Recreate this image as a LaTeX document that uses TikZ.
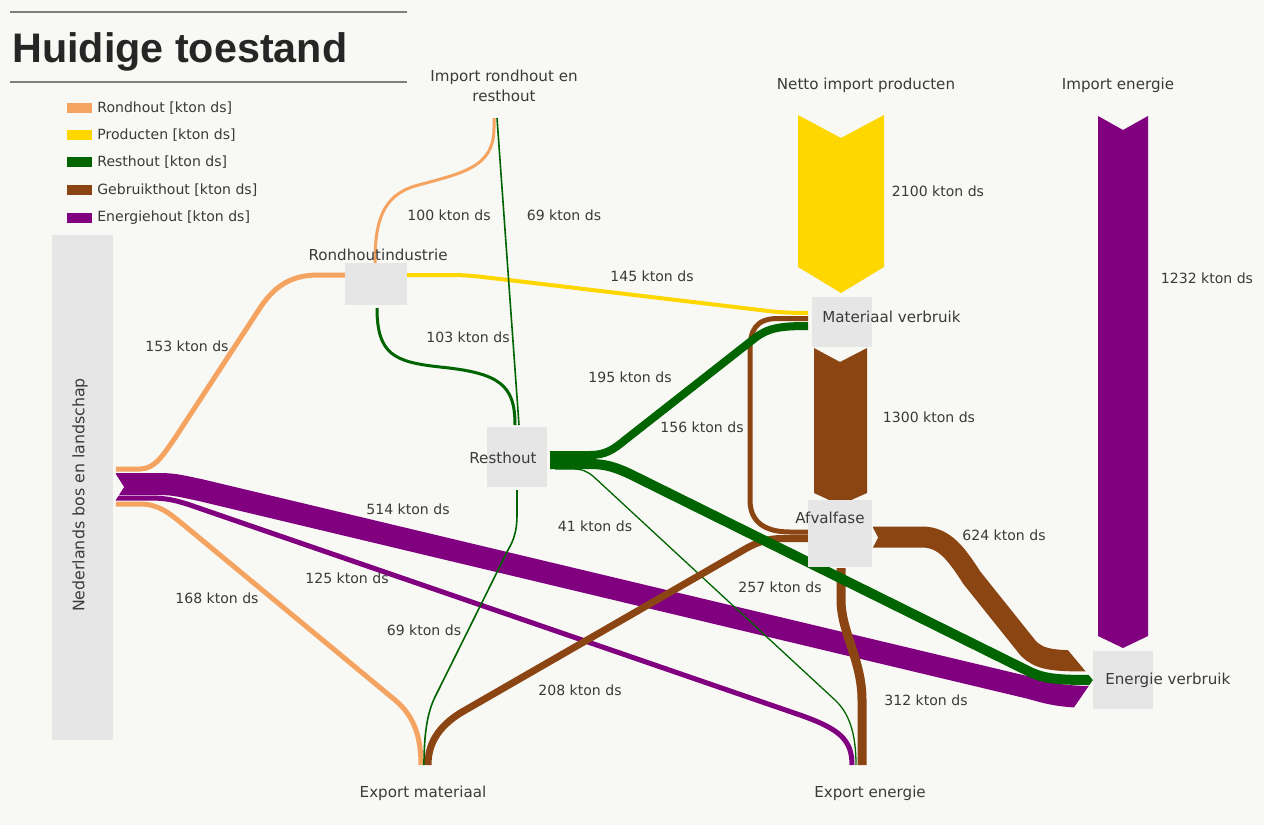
\documentclass[tikz,border=0pt]{standalone}
\usepackage{fontspec}
\setmainfont{DejaVu Sans}
\newfontfamily\titlefont{Liberation Sans}
\usetikzlibrary{calc}
\definecolor{bg}{HTML}{F8F8F4}
\definecolor{boxgrey}{HTML}{E6E6E6}
\definecolor{cOr}{HTML}{F4A460}
\definecolor{cYe}{HTML}{FFD700}
\definecolor{cGr}{HTML}{006400}
\definecolor{cBr}{HTML}{8B4513}
\definecolor{cPu}{HTML}{800080}
\definecolor{txt}{HTML}{3A3A3A}
\definecolor{rule}{HTML}{7F7F7F}
\pgfdeclarelayer{bglayer}
\pgfdeclarelayer{flowlayer}
\pgfsetlayers{bglayer,flowlayer,main}
\begin{document}
\begin{tikzpicture}[x=0.02cm,y=-0.02cm,
  flow/.style={line width=#1*0.02cm},
  gbox/.style={fill=boxgrey,draw=none,inner sep=0pt,outer sep=0pt},
  nlbl/.style={font=\fontsize{8.6}{11.3}\selectfont,text=txt,inner sep=0pt},
  lbl/.style={font=\fontsize{8}{9.6}\selectfont,text=txt,inner sep=0pt},
  leg/.style={font=\fontsize{8}{9.6}\selectfont,text=txt,inner sep=0pt,anchor=west}
]
\useasboundingbox (0,0) rectangle (1264,825);
\begin{pgfonlayer}{bglayer}
\fill[bg] (0,0) rectangle (1264,825);
\end{pgfonlayer}

% title and rules
\draw[rule,line width=0.04cm] (10,12) -- (407,12);
\draw[rule,line width=0.04cm] (10,82) -- (407,82);
\node[anchor=base west,inner sep=0pt,font=\titlefont\bfseries\fontsize{23.5}{28}\selectfont,text=black!85] (title) at (12,62) {Huidige toestand};

% legend
\fill[cOr] (67,103) rectangle (92,113);
\fill[cYe] (67,130) rectangle (92,140);
\fill[cGr] (67,157) rectangle (92,167);
\fill[cBr] (67,185) rectangle (92,195);
\fill[cPu] (67,213) rectangle (92,223);
\node[leg] (l1) at (97,108) {Rondhout [kton ds]};
\node[leg] (l2) at (97,135) {Producten [kton ds]};
\node[leg] (l3) at (97,162) {Resthout [kton ds]};
\node[leg] (l4) at (97,190) {Gebruikthout [kton ds]};
\node[leg] (l5) at (97,218) {Energiehout [kton ds]};

% process boxes
\node[gbox,minimum width=1.22cm,minimum height=10.1cm] (nb) at (82.5,487.5) {};
\node[gbox,minimum width=1.24cm,minimum height=0.84cm] (ri) at (376,284) {};
\node[gbox,minimum width=1.2cm,minimum height=1.2cm] (rh) at (517,457) {};
\node[gbox,minimum width=1.2cm,minimum height=1.0cm] (mv) at (842,322) {};
\node[gbox,minimum width=1.28cm,minimum height=1.34cm] (af) at (840,533.5) {};

% free ends
\coordinate (irOut) at (495,118);
\coordinate (emIn) at (424,765);
\coordinate (eeIn) at (856,765);

\begin{pgfonlayer}{flowlayer}
% chevrons
\fill[cYe] (798,115) -- (841,138) -- (884,115) -- (884,267) -- (841,293) -- (798,267) -- cycle;
\fill[cBr] (814,348) -- (840,362) -- (867,348) -- (867,493) -- (840,505) -- (814,493) -- cycle;
\fill[cPu] (1098,116) -- (1123,130) -- (1148,116) -- (1148,636) -- (1123,648) -- (1098,636) -- cycle;

% Rondhout
\draw[cOr,flow=5] ($(nb.east)+(3,-18.5)$) -- (140,469) .. controls (155,469) and (163,455) .. (175,438)
   -- (258,311) .. controls (272,289) and (288,275) .. (318,275) -- ($(ri.west)+(0,-9)$);
\draw[cOr,flow=3] ($(irOut)+(-1,0)$) -- (494,128) .. controls (494,168) and (462,173) .. (415,186)
   .. controls (382,196) and (375,222) .. ($(ri.north)+(-1,0)$);
\draw[cOr,flow=5] ($(nb.east)+(3,16.5)$) -- (140,504) .. controls (158,504) and (168,512) .. (185,526)
   -- (395,700) .. controls (413,715) and (421,735) .. ($(emIn)+(-3,0)$);
% Producten
\draw[cYe,flow=4] ($(ri.east)+(0,-9)$) -- (450,275) .. controls (470,275) and (482,277) .. (500,279)
   -- (760,310) .. controls (775,312) and (788,313) .. ($(mv.west)+(-4,-9)$);
% Gebruikthout 156 (under green)
\draw[cBr,flow=5] ($(mv.west)+(-4,-3.5)$) -- (778,318.5) .. controls (756,318.5) and (750,330) .. (750,350)
   -- (750,500) .. controls (750,522) and (765,532) .. (790,532) -- ($(af.west)+(0,-1.5)$);
% Energiehout
\draw[cPu,flow=22] ($(nb.east)+(3,-3.5)$) -- (160,484) .. controls (175,484) and (185,487) .. (200,490)
   -- (1030,688) .. controls (1045,692) and (1058,697) .. (1093,697);
\draw[cPu,flow=5] ($(nb.east)+(3,10.5)$) -- (150,498) .. controls (165,498) and (175,500) .. (190,505)
   -- (800,715) .. controls (840,729) and (852,740) .. ($(eeIn)+(-4,0)$);
% Resthout
\draw[cGr,flow=3] ($(ri.south)+(1,3)$) .. controls (377,355) and (395,362) .. (440,367)
   .. controls (500,373) and (515,385) .. ($(rh.north)+(-2,-2)$);
\draw[cGr,flow=1.6] ($(irOut)+(2,0)$) -- ($(rh.north)+(2,-2)$);
\draw[cGr,flow=8] ($(rh.east)+(3,-2)$) -- (590,455) .. controls (605,455) and (613,450) .. (625,440)
   -- (755,338) .. controls (768,328) and (780,326) .. ($(mv.west)+(-4,4)$);
\draw[cGr,flow=1.3] ($(rh.east)+(8,12)$) -- (572,469) .. controls (582,469) and (587,471) .. (594,477)
   -- (835,700) .. controls (850,714) and (856,735) .. (eeIn);
\draw[cGr,flow=1.6] ($(rh.south)+(0,3)$) -- (517,515) .. controls (517,530) and (514,540) .. (508,550)
   -- (436,695) .. controls (427,712) and (424,735) .. (emIn);
% Gebruikthout
\draw[cBr,flow=7] ($(af.west)+(0,5)$) -- (782,538.5) .. controls (766,538.5) and (755,543) .. (740,552)
   -- (462,712) .. controls (437,727) and (428,745) .. ($(emIn)+(4,0)$);
\draw[cBr,flow=9] ($(af.south)+(1,1)$) -- (841,600) .. controls (841,632) and (862,660) .. (862,700)
   -- ($(eeIn)+(6,0)$);
\draw[cGr,flow=10] ($(rh.east)+(3,7)$) -- (590,464) .. controls (605,464) and (615,467) .. (630,474)
   -- (1030,672) .. controls (1045,679) and (1058,680) .. (1093,680);
\draw[cBr,flow=21] ($(af.east)+(1,3.5)$) -- (922,537) .. controls (945,537) and (957,555) .. (972,578)
   -- (1028,648) .. controls (1040,660) and (1052,661) .. (1093,661);
% arrow ends
\fill[bg] (1063,644) -- (1093,644) -- (1093,680) -- cycle;
\fill[bg] (1093,680) -- (1093,712) -- (1071,712) -- cycle;
\fill[bg] (115,473) -- (124,487) -- (115,501) -- cycle;
\fill[bg] (872,526) -- (878,537.5) -- (872,549) -- cycle;
\end{pgfonlayer}

\node[gbox,minimum width=1.2cm,minimum height=1.16cm] (ev) at (1123,680) {};

% node labels
\node[nlbl,rotate=90,font=\fontsize{9}{11}\selectfont] (nbt) at (80,495) {Nederlands bos en landschap};
\node[nlbl] (rit) at (378,255) {Rondhoutindustrie};
\node[nlbl] (rht) at (503,458) {Resthout};
\node[nlbl,anchor=west] (mvt) at (822,317) {Materiaal verbruik};
\node[nlbl] (aft) at (830,518) {Afvalfase};
\node[nlbl,anchor=west] (evt) at (1105,680) {Energie verbruik};
\node[nlbl] (emt) at (423,793) {Export materiaal};
\node[nlbl] (eet) at (870,793) {Export energie};
\node[nlbl,align=center] (irt) at (504,86) {Import rondhout en\\resthout};
\node[nlbl] (npt) at (866,85) {Netto import producten};
\node[nlbl] (iet) at (1118,85) {Import energie};

% flow labels
\node[lbl] (v153) at (187,346) {153 kton ds};
\node[lbl] (v100) at (449,215) {100 kton ds};
\node[lbl] (v69a) at (564,215) {69 kton ds};
\node[lbl] (v145) at (652,276) {145 kton ds};
\node[lbl] (v103) at (468,337) {103 kton ds};
\node[lbl] (v195) at (630,377) {195 kton ds};
\node[lbl] (v156) at (702,427) {156 kton ds};
\node[lbl] (v2100) at (938,191) {2100 kton ds};
\node[lbl] (v1300) at (929,417) {1300 kton ds};
\node[lbl] (v1232) at (1207,278) {1232 kton ds};
\node[lbl] (v514) at (408,509) {514 kton ds};
\node[lbl] (v41) at (595,526) {41 kton ds};
\node[lbl] (v624) at (1004,535) {624 kton ds};
\node[lbl] (v125) at (347,578) {125 kton ds};
\node[lbl] (v168) at (217,598) {168 kton ds};
\node[lbl] (v257) at (780,587) {257 kton ds};
\node[lbl] (v69b) at (424,630) {69 kton ds};
\node[lbl] (v208) at (580,690) {208 kton ds};
\node[lbl] (v312) at (926,700) {312 kton ds};
\end{tikzpicture}
\end{document}
